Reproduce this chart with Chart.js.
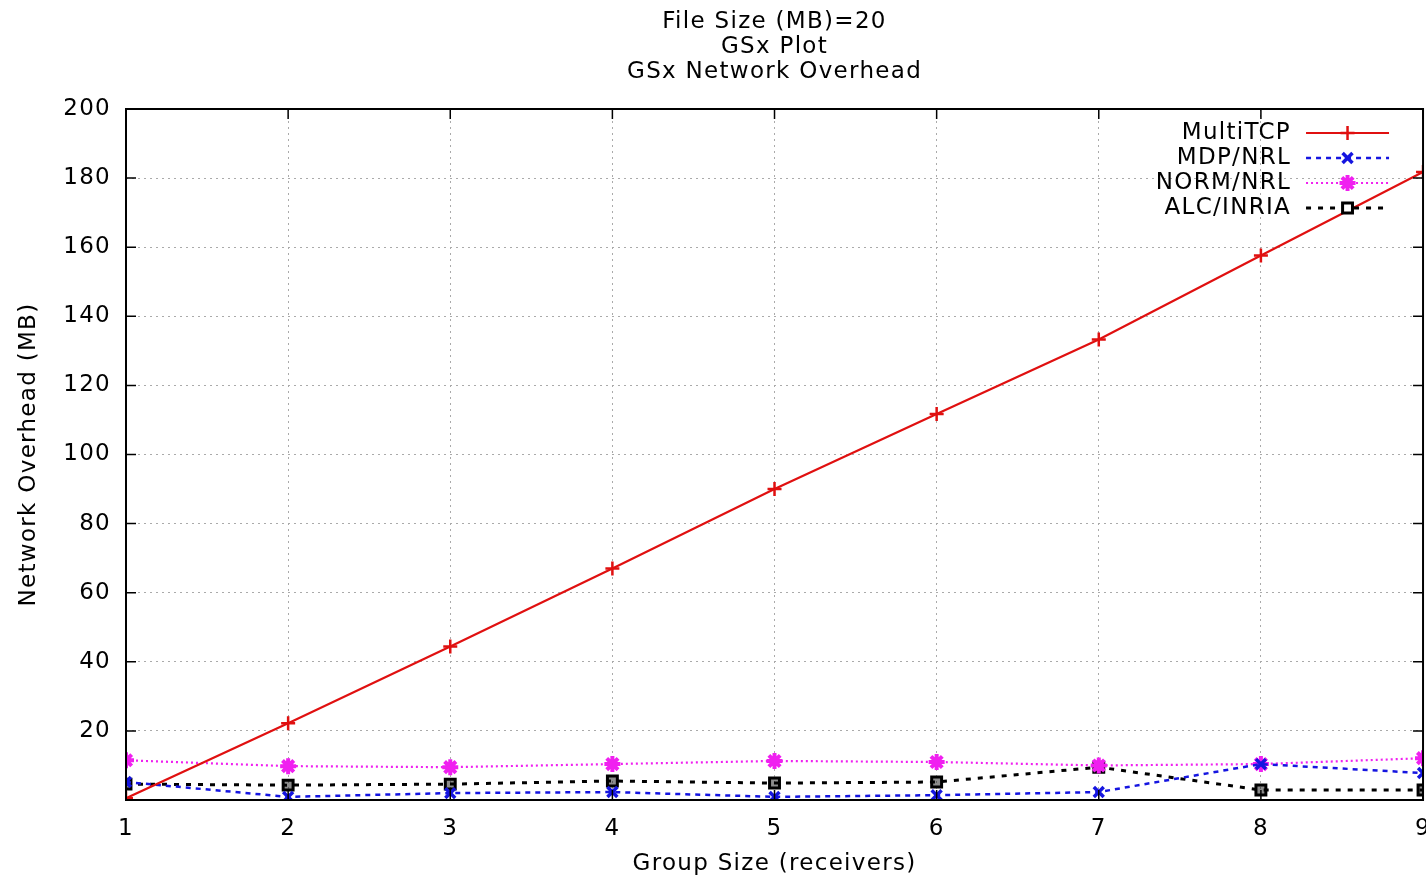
<!DOCTYPE html>
<html>
<head>
<meta charset="utf-8">
<script src="https://cdn.jsdelivr.net/npm/chart.js@4"></script>
<style>
  html, body { margin: 0; padding: 0; background: #fff; overflow: hidden; }
  canvas { display: block; }
</style>
</head>
<body>
<canvas id="chart" width="1446" height="878"></canvas>
<script>
const groupSizes = [1, 2, 3, 4, 5, 6, 7, 8, 9];
const multiTcp = [0.5, 22.2, 44.4, 67, 90, 111.7, 133.3, 157.6, 181.8];
const mdpNrl = [5.2, 0.9, 2, 2.3, 0.9, 1.4, 2.3, 10.4, 7.8];
const normNrl = [11.5, 9.8, 9.5, 10.4, 11.3, 11, 10, 10.4, 12.1];
const alcInria = [4.6, 4.3, 4.6, 5.5, 4.9, 5.2, 9.5, 2.9, 2.9];
const yTicks = [20, 40, 60, 80, 100, 120, 140, 160, 180, 200];

const FONT = '"DejaVu Sans", sans-serif';
const FONT_SIZE = 23;
const SPACING = '1.3px';

function toPoints(values) {
    return groupSizes.map((x, i) => ({ x, y: values[i] }));
}

// the old plot has wide-set text, so widen the letters before layout and draw
const spacingPlugin = {
    id: 'spacing',
    beforeUpdate(chart) { chart.ctx.letterSpacing = SPACING; },
    beforeDraw(chart) { chart.ctx.letterSpacing = SPACING; }
};

// gnuplot look: box round the plot, inward tick marks, key inside top right
const framePlugin = {
    id: 'frame',
    afterDatasetsDraw(chart) {
        const { ctx, chartArea: a, scales } = chart;
        ctx.save();
        ctx.strokeStyle = '#000';
        ctx.lineWidth = 2;
        ctx.setLineDash([]);
        ctx.strokeRect(a.left, a.top, a.right - a.left, a.bottom - a.top);
        ctx.lineWidth = 1.5;
        ctx.beginPath();
        for (const v of groupSizes) {
            const px = scales.x.getPixelForValue(v);
            ctx.moveTo(px, a.bottom); ctx.lineTo(px, a.bottom - 10);
            ctx.moveTo(px, a.top); ctx.lineTo(px, a.top + 10);
        }
        for (const v of yTicks) {
            const py = scales.y.getPixelForValue(v);
            ctx.moveTo(a.left, py); ctx.lineTo(a.left + 10, py);
            ctx.moveTo(a.right, py); ctx.lineTo(a.right - 10, py);
        }
        ctx.stroke();
        ctx.restore();
    },
    afterDraw(chart) {
        const { ctx, chartArea: a } = chart;
        const textRight = a.right - 132;
        const lineL = a.right - 117;
        const lineR = a.right - 34;
        chart.data.datasets.forEach((ds, i) => {
            const y = a.top + 24 + i * 25;
            ctx.save();
            ctx.letterSpacing = SPACING;
            ctx.font = FONT_SIZE + 'px ' + FONT;
            ctx.textAlign = 'right';
            ctx.textBaseline = 'middle';
            ctx.fillStyle = '#000';
            ctx.fillText(ds.label, textRight, y);
            ctx.strokeStyle = ds.borderColor;
            ctx.lineWidth = ds.borderWidth;
            ctx.setLineDash(ds.borderDash || []);
            ctx.beginPath();
            ctx.moveTo(lineL, y); ctx.lineTo(lineR, y);
            ctx.stroke();
            ctx.setLineDash([]);
            ctx.fillStyle = '#fff';
            ctx.strokeStyle = ds.borderColor;
            ctx.lineWidth = ds.pointBorderWidth;
            Chart.helpers.drawPoint(ctx, {
                pointStyle: ds.pointStyle,
                radius: ds.pointRadius,
                borderWidth: ds.pointBorderWidth
            }, (lineL + lineR) / 2, y);
            ctx.restore();
        });
    }
};

new Chart(document.getElementById('chart'), {
    type: 'line',
    data: {
        datasets: [
            {
                label: 'MultiTCP',
                data: toPoints(multiTcp),
                borderColor: '#e01010',
                backgroundColor: '#e01010',
                borderWidth: 2.2,
                pointStyle: 'cross',
                pointRadius: 7,
                pointBorderWidth: 2.5,
                pointBackgroundColor: 'transparent'
            },
            {
                label: 'MDP/NRL',
                data: toPoints(mdpNrl),
                borderColor: '#1515e0',
                backgroundColor: '#1515e0',
                borderWidth: 2.5,
                borderDash: [5, 5],
                pointStyle: 'crossRot',
                pointRadius: 7,
                pointBorderWidth: 3.5,
                pointBackgroundColor: 'transparent'
            },
            {
                label: 'NORM/NRL',
                data: toPoints(normNrl),
                borderColor: '#f020f0',
                backgroundColor: '#f020f0',
                borderWidth: 2.2,
                borderDash: [2, 3],
                pointStyle: 'star',
                pointRadius: 8,
                pointBorderWidth: 4,
                pointBackgroundColor: 'transparent'
            },
            {
                label: 'ALC/INRIA',
                data: toPoints(alcInria),
                borderColor: '#000',
                backgroundColor: '#000',
                borderWidth: 3,
                borderDash: [5, 7],
                pointStyle: 'rect',
                pointRadius: 7,
                pointBorderWidth: 3,
                pointBackgroundColor: 'rgba(0,0,0,0.45)'
            }
        ]
    },
    options: {
        responsive: false,
        animation: false,
        layout: { padding: { left: 8, right: 12, top: 10, bottom: 0 } },
        plugins: {
            legend: { display: false },
            tooltip: { enabled: false },
            title: {
                display: true,
                fullSize: false,
                text: ['File Size (MB)=20', 'GSx Plot', 'GSx Network Overhead'],
                color: '#000',
                font: { family: FONT, size: FONT_SIZE, weight: 'normal', lineHeight: 25 / FONT_SIZE },
                padding: { top: 0, bottom: 24 }
            }
        },
        scales: {
            x: {
                type: 'linear',
                min: 1,
                max: 9,
                afterBuildTicks(scale) {
                    scale.ticks = groupSizes.map(v => ({ value: v }));
                },
                afterFit(scale) { scale.height = 78; },
                ticks: {
                    color: '#000',
                    font: { family: FONT, size: FONT_SIZE },
                    padding: 15
                },
                grid: {
                    color: '#aaa',
                    lineWidth: 1,
                    drawTicks: false
                },
                border: { display: false, dash: [2, 4] },
                title: {
                    display: true,
                    text: 'Group Size (receivers)',
                    color: '#000',
                    font: { family: FONT, size: FONT_SIZE },
                    padding: { top: 4, bottom: 0 }
                }
            },
            y: {
                min: 0,
                max: 200,
                afterBuildTicks(scale) {
                    scale.ticks = [0].concat(yTicks).map(v => ({ value: v }));
                },
                afterFit(scale) { scale.width = 118; },
                ticks: {
                    color: '#000',
                    font: { family: FONT, size: FONT_SIZE },
                    padding: 15,
                    callback: v => (v === 0 ? '' : v)
                },
                grid: {
                    color: '#aaa',
                    lineWidth: 1,
                    drawTicks: false
                },
                border: { display: false, dash: [2, 4] },
                title: {
                    display: true,
                    text: 'Network Overhead (MB)',
                    color: '#000',
                    font: { family: FONT, size: FONT_SIZE },
                    padding: { top: 7, bottom: 0 }
                }
            }
        }
    },
    plugins: [spacingPlugin, framePlugin]
});
</script>
</body>
</html>
